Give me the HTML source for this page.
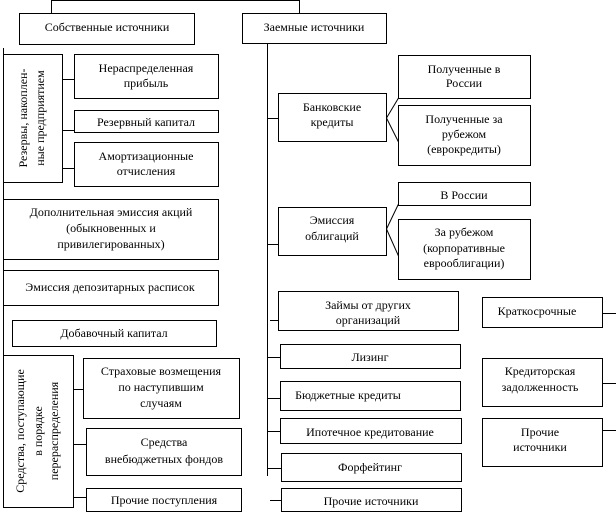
<!DOCTYPE html>
<html><head><meta charset="utf-8"><style>body{margin:0;background:#fff}svg{display:block}text{font-family:"Liberation Serif","DejaVu Serif",serif;font-size:12px;fill:#000}</style></head><body>
<svg width="616" height="516" viewBox="0 0 616 516" xmlns="http://www.w3.org/2000/svg">
<g fill="none" stroke="#000" stroke-width="1">
<path d="M51.5 13V0.5H299.5V13"/>
<rect x="19.5" y="13.5" width="175" height="31"/>
<rect x="242.5" y="13.5" width="144" height="30"/>
<path d="M3.5 48V430"/>
<rect x="3.5" y="54.5" width="59" height="128" fill="#fff"/>
<rect x="74.5" y="54.5" width="144" height="44"/>
<rect x="74.5" y="110.5" width="144" height="22"/>
<rect x="74.5" y="142.5" width="144" height="44"/>
<path d="M62 79.5H74M62 130.5H74M62 168.5H74"/>
<rect x="3.5" y="199.5" width="215" height="60" fill="#fff"/>
<rect x="3.5" y="270.5" width="215" height="35" fill="#fff"/>
<rect x="12.5" y="320.5" width="204" height="26" fill="#fff"/>
<rect x="3.5" y="355.5" width="70" height="152" fill="#fff"/>
<rect x="83.5" y="358.5" width="156" height="60"/>
<rect x="86.5" y="428.5" width="155" height="47"/>
<rect x="86.5" y="488.5" width="155" height="23"/>
<path d="M73 389.5H83M73 444.5H86M73 497.5H86"/>
<path d="M267.5 43V476"/>
<rect x="278.5" y="93.5" width="108" height="48"/>
<rect x="398.5" y="55.5" width="132" height="43"/>
<rect x="398.5" y="105.5" width="132" height="60"/>
<path d="M386.5 118L398.5 98M386.5 118L398.5 142"/>
<rect x="278.5" y="207.5" width="108" height="48"/>
<rect x="398.5" y="182.5" width="132" height="23"/>
<rect x="398.5" y="219.5" width="132" height="60"/>
<path d="M386.5 229L398.5 204M386.5 229L398.5 256"/>
<rect x="278.5" y="291.5" width="180" height="39"/>
<rect x="280.5" y="344.5" width="180" height="24"/>
<rect x="280.5" y="381.5" width="180" height="29"/>
<rect x="280.5" y="418.5" width="181" height="25"/>
<rect x="281.5" y="453.5" width="180" height="28"/>
<rect x="281.5" y="488.5" width="180" height="23"/>
<path d="M267 118.5H278M267 244.5H278M270 320.5H278M267 357.5H280M267 398.5H280M267 431.5H280M267 468.5H281M270 500.5H281"/>
<rect x="482.5" y="297.5" width="120" height="30"/>
<rect x="482.5" y="358.5" width="120" height="48"/>
<rect x="482.5" y="418.5" width="120" height="48"/>
<path d="M602 313.5H616M602 383.5H616M602 430.5H616"/>
</g>
<g text-anchor="middle">
<text x="107" y="31">Собственные  источники</text>
<text x="314" y="31">Заемные источники</text>
<text x="146" y="72">Нераспределенная</text><text x="146" y="87">прибыль</text>
<text x="146" y="126">Резервный капитал</text>
<text x="146" y="160">Амортизационные</text><text x="146" y="175">отчисления</text>
<text transform="translate(27 118) rotate(-90)">Резервы, накоплен-</text>
<text transform="translate(44 118) rotate(-90)">ные предприятием</text>
<text x="111" y="216">Дополнительная  эмиссия акций</text>
<text x="111" y="232">(обыкновенных  и</text>
<text x="111" y="248">привилегированных)</text>
<text x="110" y="291">Эмиссия депозитарных  расписок</text>
<text x="114" y="337">Добавочный капитал</text>
<text transform="translate(24 431) rotate(-90)">Средства, поступающие</text>
<text transform="translate(42 431) rotate(-90)">в порядке</text>
<text transform="translate(58 431) rotate(-90)">перераспределения</text>
<text x="161" y="375">Страховые  возмещения</text><text x="161" y="391">по наступившим</text><text x="161" y="407">случаям</text>
<text x="164" y="446">Средства</text><text x="164" y="463">внебюджетных  фондов</text>
<text x="164" y="504">Прочие поступления</text>
<text x="332" y="111">Банковские</text><text x="332" y="126">кредиты</text>
<text x="464" y="73">Полученные в</text><text x="464" y="87">России</text>
<text x="464" y="123">Полученные за</text><text x="464" y="138">рубежом</text><text x="464" y="153">(еврокредиты)</text>
<text x="332" y="224">Эмиссия</text><text x="332" y="240">облигаций</text>
<text x="464" y="199">В России</text>
<text x="464" y="236">За рубежом</text><text x="464" y="252">(корпоративные</text><text x="464" y="267">еврооблигации)</text>
<text x="368" y="309">Займы от других</text><text x="368" y="324">организаций</text>
<text x="370" y="361">Лизинг</text>
<text x="348" y="399">Бюджетные  кредиты</text>
<text x="370" y="436">Ипотечное кредитование</text>
<text x="370" y="471">Форфейтинг</text>
<text x="371" y="505">Прочие источники</text>
<text x="537" y="315">Краткосрочные</text>
<text x="540" y="375">Кредиторская</text><text x="540" y="391">задолженность</text>
<text x="540" y="436">Прочие</text><text x="540" y="451">источники</text>
</g>
</svg>
</body></html>
